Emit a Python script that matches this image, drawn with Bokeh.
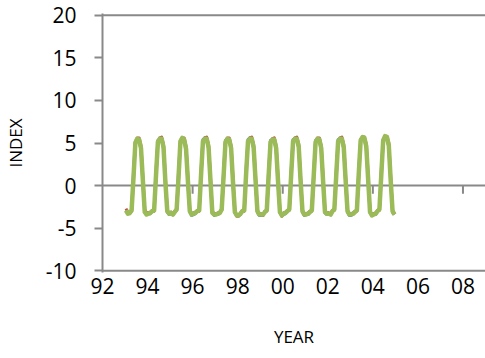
import pandas as pd
from bokeh.plotting import figure
from bokeh.models import Range1d, FixedTicker, Span, ColumnDataSource
from bokeh.embed import file_html
from bokeh.resources import INLINE

# ---- data (monthly, Jan 1993 - Dec 2004) ----
start_month = "1993-01"
end_month = "2004-12"

series_blue = [
    -3.0, -3.2, -3.2, -2.8, 1.5, 5.2, 5.5, 5.3, 4.2, 0.3, -3.1, -3.4,
    -3.3, -3.3, -3.0, -2.8, 1.7, 5.3, 5.5, 5.4, 4.3, 0.2, -3.1, -3.4,
    -3.3, -3.4, -3.1, -2.7, 1.6, 5.3, 5.6, 5.3, 4.2, 0.3, -3.1, -3.5,
    -3.4, -3.3, -3.0, -2.8, 1.8, 5.4, 5.6, 5.4, 4.3, 0.4, -3.2, -3.5,
    -3.4, -3.4, -3.1, -2.7, 1.7, 5.3, 5.5, 5.3, 4.2, 0.2, -3.2, -3.5,
    -3.5, -3.4, -3.0, -2.8, 1.9, 5.4, 5.6, 5.4, 4.3, 0.4, -3.1, -3.5,
    -3.5, -3.4, -3.1, -2.8, 1.8, 5.3, 5.4, 5.3, 4.2, 0.3, -3.2, -3.5,
    -3.4, -3.3, -3.0, -2.7, 1.8, 5.4, 5.5, 5.4, 4.4, 0.4, -3.1, -3.5,
    -3.4, -3.4, -3.1, -2.8, 1.6, 5.3, 5.5, 5.3, 4.2, 0.3, -3.2, -3.4,
    -3.4, -3.4, -3.0, -2.7, 1.7, 5.4, 5.5, 5.4, 4.3, 0.4, -3.1, -3.5,
    -3.5, -3.3, -3.1, -2.8, 1.9, 5.4, 5.7, 5.5, 4.4, 0.5, -3.2, -3.5,
    -3.4, -3.4, -3.0, -2.7, 1.8, 5.4, 5.7, 5.6, 4.5, 0.4, -3.1, -3.4,
]

series_red = [
    -2.7, -3.1, -3.3, -3.0, 0.6, 4.9, 5.6, 5.6, 4.7, 1.0, -2.8, -3.2,
    -3.2, -3.1, -2.9, -3.0, 0.9, 5.0, 5.6, 5.7, 4.8, 0.9, -2.9, -3.2,
    -3.1, -3.3, -3.0, -2.9, 0.7, 5.1, 5.6, 5.6, 4.6, 1.0, -2.9, -3.3,
    -3.2, -3.1, -2.9, -3.0, 1.0, 5.1, 5.6, 5.7, 4.8, 1.1, -3.0, -3.3,
    -3.3, -3.2, -3.1, -2.9, 0.8, 5.0, 5.6, 5.6, 4.7, 0.9, -3.0, -3.6,
    -3.6, -3.2, -2.9, -3.0, 1.1, 5.1, 5.6, 5.7, 4.8, 1.2, -2.9, -3.3,
    -3.3, -3.5, -3.0, -3.0, 0.9, 5.0, 5.5, 5.6, 4.7, 1.0, -3.0, -3.6,
    -3.2, -3.1, -2.9, -2.9, 1.0, 5.1, 5.6, 5.7, 4.9, 1.1, -2.9, -3.3,
    -3.3, -3.2, -3.0, -3.0, 0.8, 5.0, 5.6, 5.6, 4.7, 1.0, -3.0, -3.2,
    -3.2, -3.3, -2.9, -2.9, 0.9, 5.1, 5.6, 5.7, 4.8, 1.1, -2.9, -3.3,
    -3.3, -3.2, -3.0, -3.0, 1.1, 5.2, 5.7, 5.7, 4.9, 1.2, -3.0, -3.4,
    -3.3, -3.2, -2.9, -2.9, 1.0, 5.2, 5.8, 5.8, 5.0, 1.1, -2.9, -3.3,
]

series_green = [
    -2.9, -3.3, -3.2, -2.9, 0.9, 5.0, 5.5, 5.4, 4.4, 0.6, -3.1, -3.4,
    -3.3, -3.2, -3.0, -2.9, 1.2, 5.1, 5.5, 5.5, 4.5, 0.4, -3.0, -3.3,
    -3.2, -3.4, -3.1, -2.8, 1.0, 5.2, 5.6, 5.4, 4.3, 0.5, -3.0, -3.4,
    -3.3, -3.2, -3.0, -2.9, 1.3, 5.2, 5.5, 5.5, 4.5, 0.6, -3.2, -3.4,
    -3.4, -3.3, -3.2, -2.8, 1.1, 5.1, 5.5, 5.4, 4.4, 0.4, -3.1, -3.5,
    -3.5, -3.3, -3.0, -2.9, 1.4, 5.2, 5.5, 5.5, 4.5, 0.7, -3.0, -3.4,
    -3.4, -3.4, -3.1, -2.9, 1.2, 5.1, 5.4, 5.4, 4.4, 0.5, -3.1, -3.5,
    -3.3, -3.2, -3.0, -2.8, 1.3, 5.2, 5.5, 5.5, 4.6, 0.6, -3.0, -3.4,
    -3.4, -3.3, -3.1, -2.9, 1.1, 5.1, 5.5, 5.4, 4.4, 0.5, -3.1, -3.3,
    -3.3, -3.4, -3.0, -2.8, 1.2, 5.2, 5.5, 5.5, 4.5, 0.6, -3.0, -3.4,
    -3.4, -3.3, -3.1, -2.9, 1.4, 5.3, 5.7, 5.6, 4.6, 0.7, -3.1, -3.5,
    -3.4, -3.3, -3.0, -2.8, 1.3, 5.3, 5.8, 5.7, 4.7, 0.6, -3.0, -3.4,
]

x_tick_years = [1992, 1994, 1996, 1998, 2000, 2002, 2004, 2006, 2008]
x_tick_labels = ["92", "94", "96", "98", "00", "02", "04", "06", "08"]
y_ticks = [-10, -5, 0, 5, 10, 15, 20]
y_tick_labels = ["-10", "-5", "0", "5", "10", "15", "20"]
zero_axis_tick_years = [1996, 2000, 2004, 2008]
hline_levels = [20, 0, -10]

# decimal-year positions of the monthly samples (mid-month)
months = pd.date_range(start_month, end_month, freq="MS")
t = [m.year + (m.month - 0.5) / 12.0 for m in months]

src = ColumnDataSource(dict(t=t, blue=series_blue, red=series_red, green=series_green))

AX = "#898989"
FONT = "Open Sans"

p = figure(width=485, height=358, output_backend="svg", toolbar_location=None,
           x_range=Range1d(1992, 2009), y_range=Range1d(-10.2, 20.2),
           min_border_left=100, min_border_right=0, min_border_top=13, min_border_bottom=86)
p.outline_line_color = None
p.xgrid.visible = False
p.ygrid.visible = False
p.background_fill_color = "white"
p.border_fill_color = "white"

for lvl in hline_levels:
    p.add_layout(Span(location=lvl, dimension="width", line_color=AX, line_width=2, level="underlay"))

p.segment(x0=zero_axis_tick_years, y0=[0] * len(zero_axis_tick_years),
          x1=zero_axis_tick_years, y1=[-0.95] * len(zero_axis_tick_years),
          line_color=AX, line_width=2, level="underlay")

p.line("t", "blue", source=src, line_color="#4F81BD", line_width=3, line_join="round")
p.line("t", "red", source=src, line_color="#C0504D", line_width=3, line_join="round")
p.line("t", "green", source=src, line_color="#9BBB59", line_width=4.5, line_join="round")

# y axis
ya = p.yaxis[0]
ya.ticker = FixedTicker(ticks=y_ticks)
ya.major_label_overrides = {v: lab for v, lab in zip(y_ticks, y_tick_labels)}
ya.axis_line_color = AX
ya.axis_line_width = 2
ya.major_tick_line_color = AX
ya.major_tick_line_width = 2
ya.major_tick_out = 8
ya.major_tick_in = 0
ya.minor_tick_line_color = None
ya.major_label_standoff = 18
ya.major_label_text_font = FONT
ya.major_label_text_font_size = "21px"
ya.major_label_text_color = "black"
ya.axis_label = "INDEX"
ya.axis_label_text_font = FONT
ya.axis_label_text_font_size = "17px"
ya.axis_label_text_font_style = "normal"
ya.axis_label_text_color = "black"
ya.axis_label_standoff = 16

# x axis
xa = p.xaxis[0]
xa.ticker = FixedTicker(ticks=x_tick_years)
xa.major_label_overrides = {yr: lab for yr, lab in zip(x_tick_years, x_tick_labels)}
xa.axis_line_color = None
xa.major_tick_line_color = None
xa.minor_tick_line_color = None
xa.major_tick_out = 0
xa.major_tick_in = 0
xa.major_label_standoff = 5
xa.major_label_text_font = FONT
xa.major_label_text_font_size = "21px"
xa.major_label_text_color = "black"
xa.axis_label = "YEAR"
xa.axis_label_text_font = FONT
xa.axis_label_text_font_size = "17px"
xa.axis_label_text_font_style = "normal"
xa.axis_label_text_color = "black"
xa.axis_label_standoff = 28

open("out.html", "w").write(file_html(p, INLINE))
